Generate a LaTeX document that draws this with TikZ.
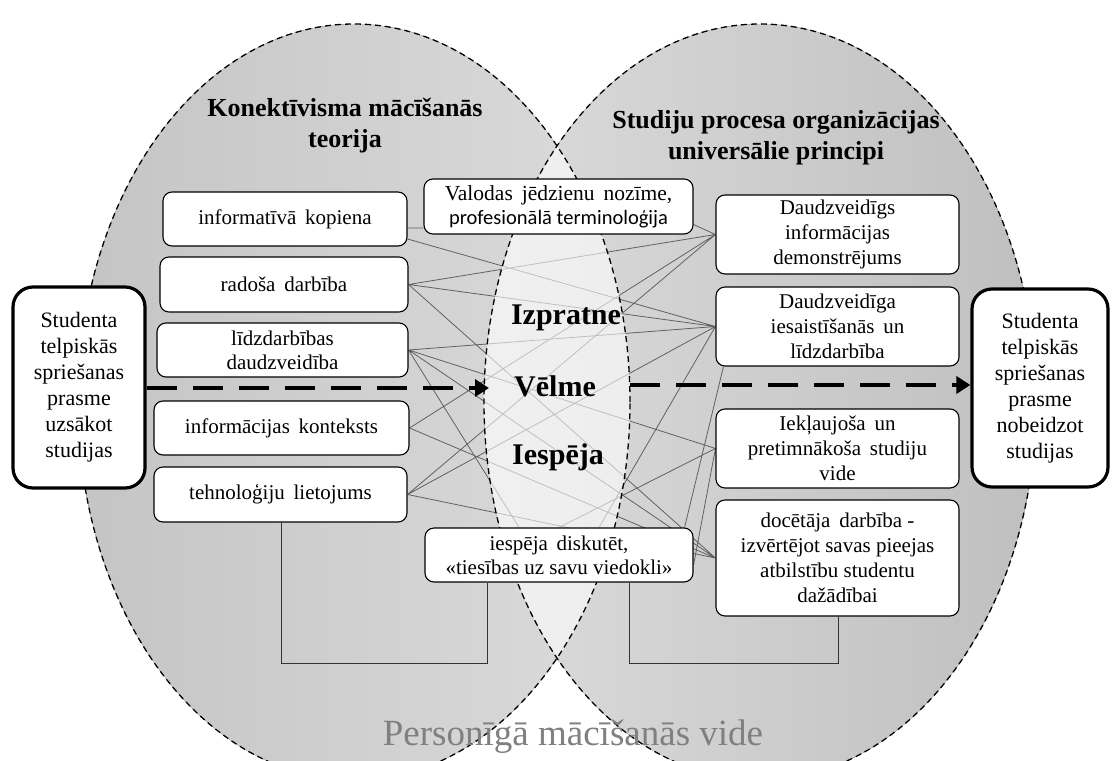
\documentclass[tikz,border=0pt]{standalone}
\usepackage{fontspec}
\setmainfont{Liberation Serif}
\newfontfamily\calibrifont{Carlito}
\usetikzlibrary{arrows.meta,calc}

\pgfdeclarelayer{fields}
\pgfdeclarelayer{links}
\pgfdeclarelayer{overlap}
\pgfsetlayers{fields,links,overlap,main}

\tikzset{
  cbox/.style={draw=black, line width=1.1pt, fill=white, rounded corners=9pt,
    align=center, inner sep=2pt, font=\fontsize{21}{24}\selectfont},
  rbox/.style={cbox, minimum width=243pt, font=\fontsize{21}{25}\selectfont},
  sbox/.style={draw=black, line width=3.2pt, fill=white, rounded corners=20pt,
    align=center, font=\fontsize{22}{26}\selectfont},
  link/.style={draw=black!62, line width=0.8pt},
  frame/.style={draw=black!80, line width=0.8pt},
  flow/.style={line width=4.5pt, dash pattern=on 30pt off 16pt,
    -{Triangle[length=14pt,width=17pt]}},
  outline/.style={draw=black, line width=1.3pt, dash pattern=on 6pt off 4pt},
  keyword/.style={font=\fontsize{30}{32}\selectfont\bfseries},
  heading/.style={font=\fontsize{26}{31}\selectfont\bfseries, align=center},
  leftfield/.style={insert path={(354,402) ellipse [x radius=276pt, y radius=378pt]}},
  rightfield/.style={insert path={(760,402) ellipse [x radius=276pt, y radius=378pt]}},
}

\begin{document}
\begin{tikzpicture}[x=1pt,y=-1pt]
\clip (0,0) rectangle (1118,760);

% the two overlapping fields
\begin{pgfonlayer}{fields}
\fill[white] (0,0) rectangle (1118,760);
\fill[left color=black!23, right color=black!14, leftfield];
\fill[left color=black!14, right color=black!25, rightfield];
\end{pgfonlayer}

% lighter overlap and the dashed field outlines
\begin{pgfonlayer}{overlap}
\begin{scope}
  \clip[leftfield];
  \fill[white, opacity=0.6, rightfield];
\end{scope}
\draw[outline, leftfield];
\draw[outline, rightfield];
\end{pgfonlayer}

% concepts of connectivism
\node[cbox, minimum width=244pt, minimum height=54pt] (L1) at (285,219) {informatīvā\, kopiena};
\node[cbox, minimum width=248pt, minimum height=55pt] (L2) at (284,284.5) {radoša\, darbība};
\node[cbox, minimum width=251pt, minimum height=54pt] (L3) at (282.5,350) {līdzdarbības\\daudzveidība};
\node[cbox, minimum width=255pt, minimum height=54pt] (L4) at (281.5,428) {informācijas\, konteksts};
\node[cbox, minimum width=253pt, minimum height=55pt] (L5) at (280.5,494.5) {tehnoloģiju\, lietojums};

% shared conditions
\node[cbox, minimum width=269pt, minimum height=55pt, font=\fontsize{21.5}{24}\selectfont] (V) at (558.5,206.5)
  {Valodas\, jēdzienu\, nozīme,\\{\calibrifont\fontsize{20.5}{24}\selectfont profesionālā terminoloģija}};
\node[cbox, minimum width=268pt, minimum height=54pt] (D) at (559,555)
  {iespēja\, diskutēt,\\«tiesības uz savu viedokli»};

% universal principles
\node[rbox, minimum height=79pt] (R1) at (837.5,234.5) {Daudzveidīgs\\informācijas\\demonstrējums};
\node[rbox, minimum height=79pt] (R2) at (837.5,326.5) {Daudzveidīga\\iesaistīšanās\, un\\līdzdarbība};
\node[rbox, minimum height=79pt] (R3) at (837.5,448.5) {Iekļaujoša\, un\\pretimnākoša\, studiju\\vide};
\node[rbox, minimum height=116pt] (R4) at (837.5,558) {docētāja\, darbība -\\izvērtējot savas pieejas\\atbilstību studentu\\dažādībai};

% student's skill before and after
\node[sbox, minimum width=132pt, minimum height=201pt] (S1) at (79,387.5)
  {Studenta\\telpiskās\\spriešanas\\prasme\\uzsākot\\studijas};
\node[sbox, minimum width=136pt, minimum height=198pt] (S2) at (1040,388)
  {Studenta\\telpiskās\\spriešanas\\prasme\\nobeidzot\\studijas};

% links between concepts and principles
\begin{pgfonlayer}{links}
\path[link]
  ([yshift=-9pt]L1.east) -- ([yshift=-9pt]L1.east -| V.west)
  ([yshift=-20pt]L1.east) -- (R2.west)
  (L2.east) -- (R1.west)
  (L2.east) -- (R2.west)
  (L2.east) -- (R4.west)
  (L3.east) -- (R2.west)
  (L3.east) -- (R3.west)
  (L3.east) -- ([xshift=-40pt]D.north)
  (L3.east) -- (R4.west)
  (L4.east) -- (R1.west)
  (L4.east) -- (R4.west)
  (L5.east) -- (R1.west)
  (L5.east) -- (R2.west)
  (L5.east) -- (R4.west)
  ([yshift=-18pt]V.east) -- (R1.west)
  (R2.west) -- ([xshift=40pt]D.north)
  (R3.west) -- (D.north)
  (R3.west) -- ([yshift=-10pt]D.east)
  ([xshift=8pt]R2.south west) -- ([xshift=-9pt]D.north east);

% brackets joining the lower boxes
\coordinate (bl) at (281,663);
\coordinate (br) at (838,663);
\draw[frame] (L5.south -| bl) -- (bl) -- (bl -| 487,0) -- (D.south -| 487,0);
\draw[frame] (D.south -| 629,0) -- (629,663) -- (br) -- (R4.south -| br);
\end{pgfonlayer}

% headings and keywords
\node[heading] (T1) at (345,126) {Konektīvisma mācīšanās\\teorija};
\node[heading] (T2) at (776,138) {Studiju procesa organizācijas\\universālie principi};
\node[keyword] (K1) at (566,318) {Izpratne};
\node[keyword] (K2) at (555,386) {Vēlme};
\node[keyword] (K3) at (558,457) {Iespēja};

% flow of the student's skill
\coordinate (lensL) at (489,388);
\coordinate (lensR) at (630,385);
\draw[flow] (S1.east |- lensL) -- (lensL);
\draw[flow] (lensR) -- (lensR -| S2.west);

\node[text=black!50, font=\fontsize{37}{40}\selectfont] (P) at (573,737) {Personīgā mācīšanās vide};
\end{tikzpicture}
\end{document}
